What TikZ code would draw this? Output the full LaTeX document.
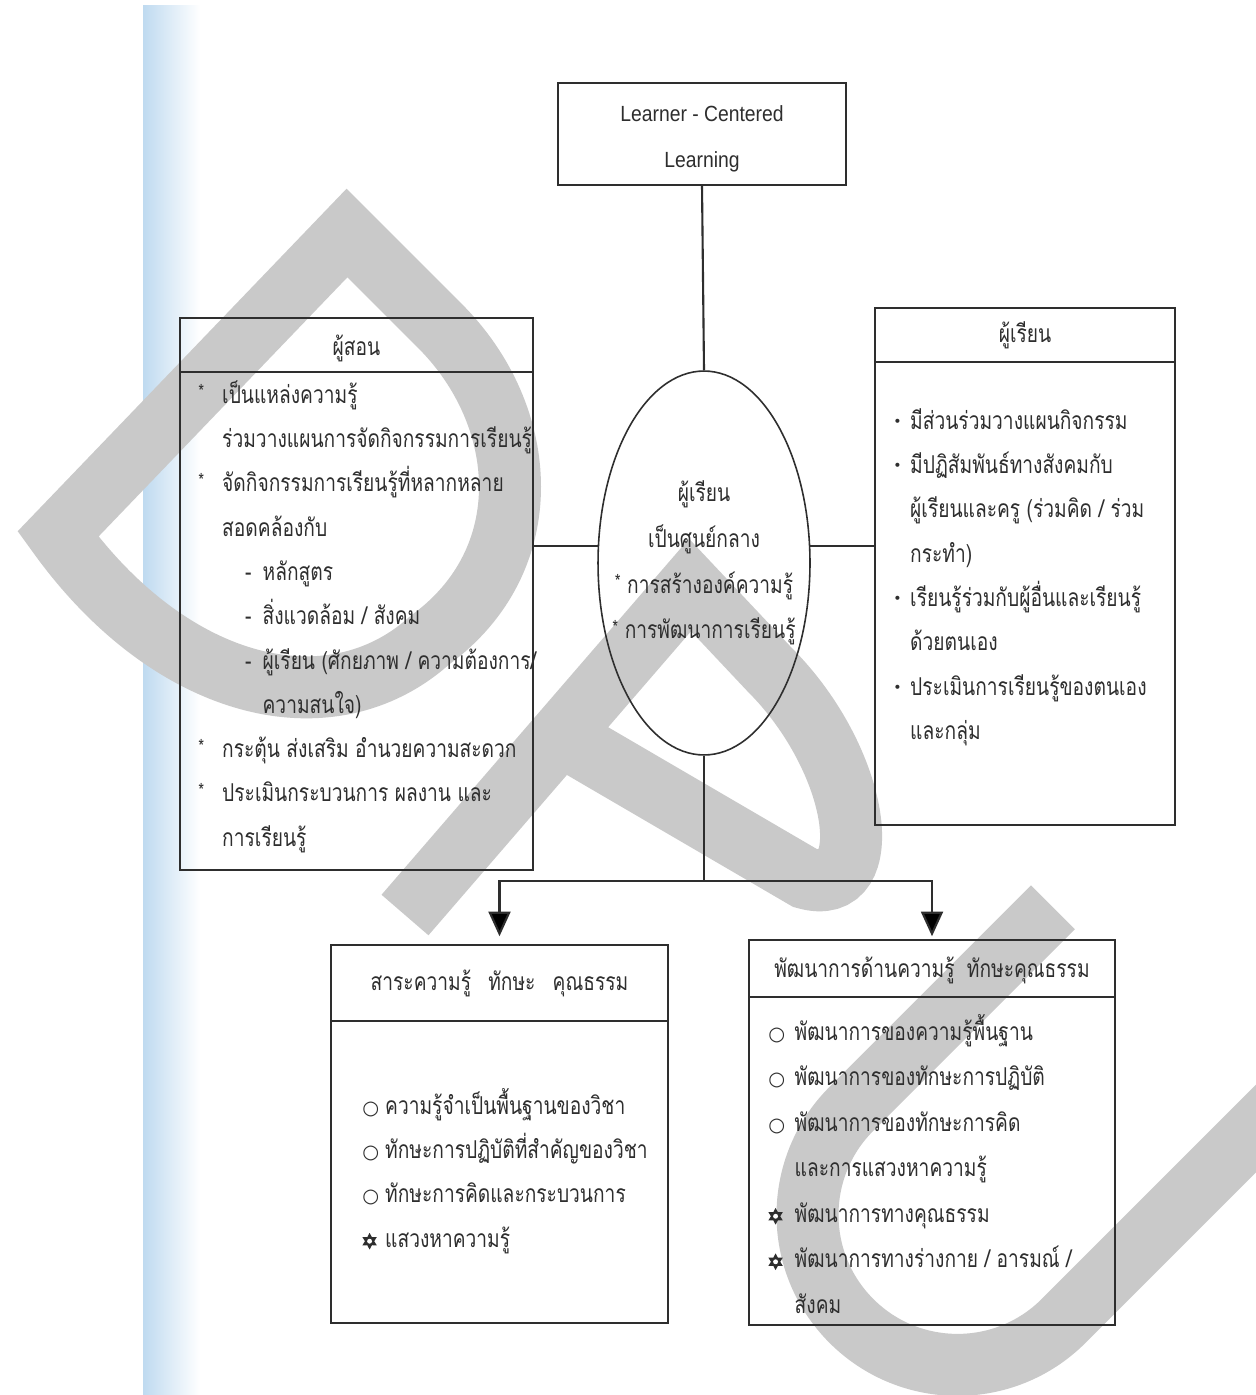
\documentclass[tikz,border=0pt]{standalone}
\usepackage{fontspec}
\setmainfont[Script=Thai, FakeStretch=0.78]{Loma}
\newfontfamily\latinfont[FakeStretch=0.88]{Liberation Sans}
\newfontfamily\symfont{DejaVu Sans}
\usetikzlibrary{shapes.geometric, arrows.meta, positioning}

\definecolor{ink}{HTML}{2E2E2E}
\definecolor{wmgray}{HTML}{C9C9C9}
\definecolor{scanblue}{HTML}{BFDAF0}

% bullet boxes for the lists
\newcommand{\starmk}{\raisebox{2.5pt}{\fontsize{11}{11}\selectfont *}}
\newcommand{\bul}[1]{\makebox[13.6pt][l]{#1}}
\newcommand{\dsh}[1]{\hspace{13pt}\makebox[10pt][l]{#1}}
\newcommand{\mk}[2]{\makebox[#1][l]{\symfont\fontsize{11}{11}\selectfont #2}}
\newcommand{\dotb}{\makebox[9.6pt][l]{\raisebox{1.5pt}{\symfont\fontsize{8}{8}\selectfont •}}}
\newcommand{\flower}{\tikz[baseline={(0pt,-3.4pt)}, x=1pt, y=1pt]{%
  \node[star, star points=6, star point ratio=1.8, fill=ink, draw=none, minimum size=9.5pt, inner sep=0pt, anchor=center] at (0,0) {};
  \fill[white] (0,0) circle[radius=1.4pt];}}

\tikzset{
  box/.style={draw=ink, line width=0.9pt, rectangle, inner sep=0pt},
  body/.style={font=\fontsize{14}{25.2}\selectfont, align=left, inner sep=0pt, anchor=north west, text=ink},
  head/.style={font=\fontsize{14}{16}\selectfont, text=ink, inner sep=0pt},
  rule/.style={draw=ink, line width=0.9pt},
  link/.style={draw=ink, line width=1.2pt},
  feed/.style={link, -{Triangle[width=12.5pt,length=14pt]}},
  wm/.style={draw=wmgray, line width=1.24cm, line join=miter}
}

\begin{document}
\begin{tikzpicture}[x=0.02cm, y=-0.02cm]
\useasboundingbox (0,0) rectangle (1256,1395);
\fill[white] (0,0) rectangle (1256,1395);

% scanned page edge
\shade[left color=scanblue, right color=white] (143,6) rectangle (200,1395);

% watermark letters
\draw[wm] (58,534) -- (347,233) -- (440,326) .. controls (530,416) and (540,560) .. (430,640)
  .. controls (330,730) and (170,690) .. cycle;
\draw[wm] (405,915) -- (690,585) -- (770,670) .. controls (860,760) and (880,900) .. (805,878)
  -- (560,735);
\begin{scope}[shift={(10,529)}, x={(0.01414cm,-0.01414cm)}, y={(0.01414cm,0.01414cm)}]
  \draw[wm] (1005,470) -- (1005,185) arc[start angle=180, end angle=360, radius=150] -- (1305,620);
\end{scope}

% top box
\node[box, minimum width=5.76cm, minimum height=2.04cm] (lcl) at (702,134) {};
\node[align=center, inner sep=0pt, text=ink, font=\latinfont\fontsize{12.5}{26}\selectfont] (lcltext) at (702,139) {Learner - Centered\\Learning};

% centre
\node[box, ellipse, minimum width=4.24cm, minimum height=7.68cm] (hub) at (704,563) {};
\node[body, anchor=center, align=center, font=\fontsize{14}{26}\selectfont] (hubtext) at (hub.center)
  {ผู้เรียน\\เป็นศูนย์กลาง\\\starmk\ การสร้างองค์ความรู้\\\starmk\ การพัฒนาการเรียนรู้};

% teacher
\node[box, minimum width=7.06cm, minimum height=11.04cm] (teacher) at (356.5,594) {};
\node[head] (teacherhead) at (356.5,348) {ผู้สอน};
\draw[rule] ([yshift=-1.1cm]teacher.north west) -- ([yshift=-1.1cm]teacher.north east);
\node[body] (teacherlist) at (198,372) {\strut\bul{\starmk}เป็นแหล่งความรู้\\
  \bul{}ร่วมวางแผนการจัดกิจกรรมการเรียนรู้\\
  \bul{\starmk}จัดกิจกรรมการเรียนรู้ที่หลากหลาย\\
  \bul{}สอดคล้องกับ\\
  \bul{}\dsh{-}หลักสูตร\\
  \bul{}\dsh{-}สิ่งแวดล้อม / สังคม\\
  \bul{}\dsh{-}ผู้เรียน (ศักยภาพ / ความต้องการ/\\
  \bul{}\dsh{}ความสนใจ)\\
  \bul{\starmk}กระตุ้น ส่งเสริม อำนวยความสะดวก\\
  \bul{\starmk}ประเมินกระบวนการ ผลงาน และ\\
  \bul{}การเรียนรู้};

% learner
\node[box, minimum width=6cm, minimum height=10.34cm] (learner) at (1025,566.5) {};
\node[head] (learnerhead) at (1025,335) {ผู้เรียน};
\draw[rule] ([yshift=-1.1cm]learner.north west) -- ([yshift=-1.1cm]learner.north east);
\node[body] (learnerlist) at (893,398) {\strut\dotb มีส่วนร่วมวางแผนกิจกรรม\\
  \dotb มีปฏิสัมพันธ์ทางสังคมกับ\\
  \mk{9.6pt}{}ผู้เรียนและครู (ร่วมคิด / ร่วม\\
  \mk{9.6pt}{}กระทำ)\\
  \dotb เรียนรู้ร่วมกับผู้อื่นและเรียนรู้\\
  \mk{9.6pt}{}ด้วยตนเอง\\
  \dotb ประเมินการเรียนรู้ของตนเอง\\
  \mk{9.6pt}{}และกลุ่ม};

% content
\node[box, minimum width=6.74cm, minimum height=7.56cm] (content) at (499.5,1134) {};
\node[head] (contenthead) at (499.5,983) {สาระความรู้\hspace{0.7em}ทักษะ\hspace{0.7em}คุณธรรม};
\draw[rule] ([yshift=-1.54cm]content.north west) -- ([yshift=-1.54cm]content.north east);
\node[body] (contentlist) at (362,1083) {\strut\mk{13pt}{○}ความรู้จำเป็นพื้นฐานของวิชา\\
  \mk{13pt}{○}ทักษะการปฏิบัติที่สำคัญของวิชา\\
  \mk{13pt}{○}ทักษะการคิดและกระบวนการ\\
  \makebox[13pt][l]{\flower}แสวงหาความรู้};

% development
\node[box, minimum width=7.32cm, minimum height=7.7cm] (devel) at (932,1132.5) {};
\node[head] (develhead) at (932,970) {พัฒนาการด้านความรู้\hspace{0.5em}ทักษะคุณธรรม};
\draw[rule] ([yshift=-1.16cm]devel.north west) -- ([yshift=-1.16cm]devel.north east);
\node[body, font=\fontsize{14}{25.9}\selectfont] (devellist) at (768,1008) {\strut\mk{15pt}{○}พัฒนาการของความรู้พื้นฐาน\\
  \mk{15pt}{○}พัฒนาการของทักษะการปฏิบัติ\\
  \mk{15pt}{○}พัฒนาการของทักษะการคิด\\
  \mk{15pt}{}และการแสวงหาความรู้\\
  \makebox[15pt][l]{\flower}พัฒนาการทางคุณธรรม\\
  \makebox[15pt][l]{\flower}พัฒนาการทางร่างกาย / อารมณ์ /\\
  \mk{15pt}{}สังคม};

% connectors
\coordinate (fork) at (704,881);
\draw[link] (lcl.south) -- (hub.north);
\draw[link] (hub.171) -- (hub.171 -| teacher.east);
\draw[link] (hub.9) -- (hub.9 -| learner.west);
\draw[link] (hub.south) -- (fork);
\draw[feed, shorten >=0.16cm] (fork) -| (content.north);
\draw[feed, shorten >=0.06cm] (fork) -| (devel.north);

\end{tikzpicture}
\end{document}
